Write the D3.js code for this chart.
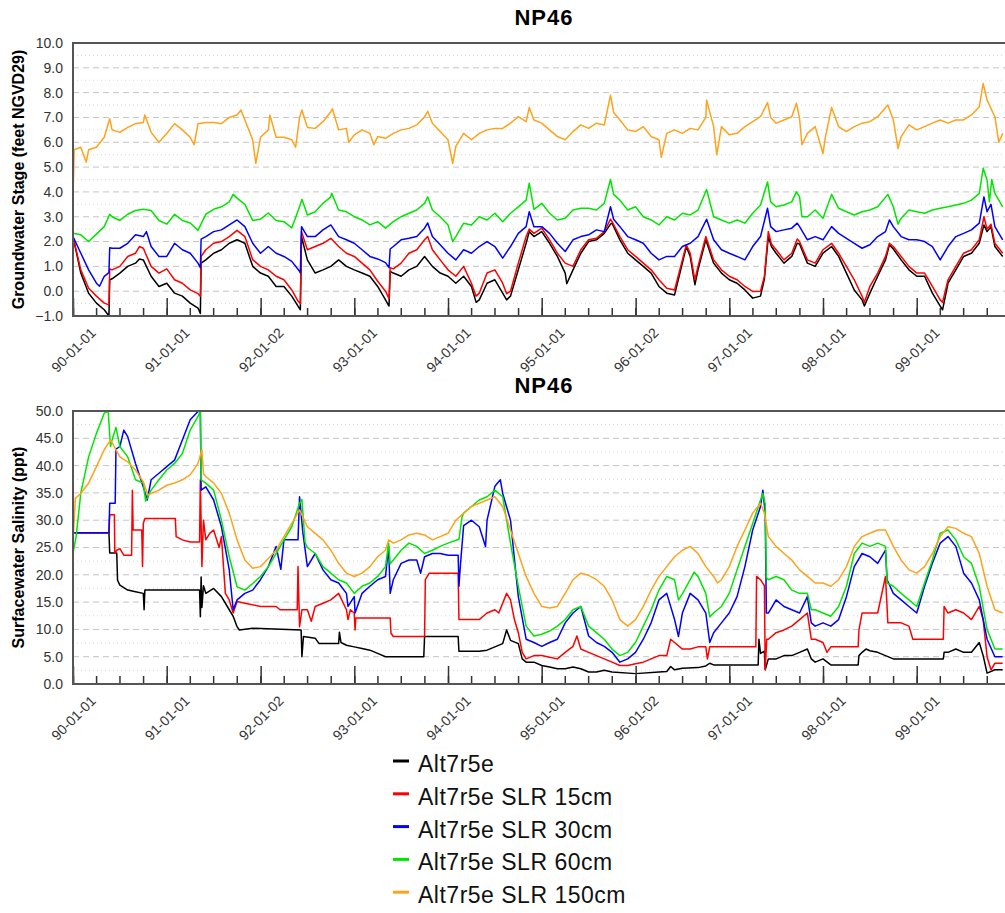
<!DOCTYPE html>
<meta charset="utf-8">
<style>
body { margin: 0; background: #fff; }
svg text { font-family: "Liberation Sans", Arial, sans-serif; }
.grid-major { stroke: #c4c4c4; stroke-width: 1; stroke-dasharray: 6,4; }
.grid-minor { stroke: #d8d8d8; stroke-width: 1; stroke-dasharray: 1,3; }
.ytick { font-size: 14px; fill: #333; }
.xtick text { font-size: 14px; fill: #333; }
.xtick line, .mtick line { stroke: #333; stroke-width: 1.5; }
.xtick path, .mtick path { display: none; }
.frame { stroke: #555; stroke-width: 2; fill: none; }
.title { font-size: 22px; font-weight: bold; letter-spacing: 1px; }
.ylab { font-size: 16px; font-weight: bold; }
.legend text { font-size: 23px; letter-spacing: 0.5px; fill: #111; }
.series { fill: none; stroke-width: 1.5; stroke-linejoin: round; }
</style>
<svg width="1005" height="913"></svg>
<script src="https://d3js.org/d3.v7.min.js"></script>
<script>
// series labels and colours (legend order)
var seriesNames = ["Alt7r5e", "Alt7r5e SLR 15cm", "Alt7r5e SLR 30cm", "Alt7r5e SLR 60cm", "Alt7r5e SLR 150cm"];
var seriesColors = ["#000000", "#ff0000", "#0000ff", "#00e600", "#ffa31a"];

// x tick labels (dates of the major ticks)
var xTickLabels = ["90-01-01", "91-01-01", "92-01-02", "93-01-01", "94-01-01", "95-01-01", "96-01-02", "97-01-01", "98-01-01", "99-01-01"];
var gwTicks = [-1, 0, 1, 2, 3, 4, 5, 6, 7, 8, 9, 10];
var salTicks = [0, 5, 10, 15, 20, 25, 30, 35, 40, 45, 50];

// values: [months since 1990-01-01, value]
// groundwater stage (feet NGVD29)
var gwBlack = [[0,2.2],[1,0.73],[2,-0.08],[3,-0.48],[4,-0.75],[4.6,-1.0],[4.7,0.46],[5,0.5],[6,0.73],[7,1.0],[8,1.13],[8.5,1.3],[9,1.26],[10,0.6],[11,0.19],[12,0.32],[13,-0.08],[14,-0.2],[15,-0.48],[16,-0.68],[16.3,-0.9],[16.4,1.13],[17,1.26],[18,1.53],[19,1.67],[20,1.93],[21,2.07],[22,1.93],[23,1.0],[24,0.73],[25,0.6],[26,0.19],[27,0.19],[28,-0.2],[28.8,-0.6],[29.1,-0.75],[29.25,2.2],[30,1.26],[31,0.73],[32,0.86],[33,1.0],[34,1.26],[35,1.0],[36,0.86],[37,0.73],[38,0.6],[39,0.19],[40,-0.35],[40.45,-0.6],[40.6,0.8],[41,0.73],[42,0.6],[43,0.86],[44,1.0],[45,1.4],[46,1.0],[47,0.73],[48,0.6],[49,0.32],[50,0.6],[51,0.19],[51.6,-0.45],[52,-0.35],[53,0.32],[54,0.46],[55,-0.08],[55.5,-0.35],[56,-0.2],[57,0.86],[58,1.93],[58.4,2.4],[59,2.2],[60,2.4],[61,1.93],[62,1.4],[63,0.73],[63.2,0.3],[64,0.86],[65,1.53],[66,2.0],[67,2.07],[68,2.33],[68.8,2.7],[69,2.74],[70,2.07],[71,1.53],[72,1.26],[73,1.0],[74,0.73],[75,0.19],[76,-0.08],[77,-0.15],[78,1.13],[78.5,1.8],[79,1.4],[79.6,0.26],[80,0.86],[81,2.07],[82,1.13],[83,0.73],[84,0.46],[85,0.32],[86,0.05],[87,-0.28],[88,-0.2],[88.5,0.5],[89,2.2],[89.4,1.8],[90,1.53],[91,1.13],[92,1.4],[92.7,1.93],[93,1.9],[94,1.13],[95,1.0],[96,1.53],[97.1,1.8],[98,1.4],[99,0.73],[100,0.05],[101,-0.35],[101.3,-0.6],[102,-0.08],[103,0.6],[104,1.26],[104.5,1.87],[105,1.7],[106,1.26],[107,0.86],[108,0.6],[109,0.6],[110,-0.08],[111,-0.6],[111.3,-0.75],[112,0.32],[113,0.86],[114,1.4],[115,1.53],[116,1.93],[116.6,2.67],[117,2.4],[117.5,2.6],[118,1.8],[119,1.4]];
var gwRed = [[0,2.2],[1,0.86],[2,0.12],[3,-0.2],[4,-0.48],[4.6,-0.55],[4.7,0.9],[5,0.86],[6,1.0],[7,1.4],[8,1.53],[8.5,1.8],[9,1.73],[10,1.0],[11,0.73],[12,0.9],[13,0.46],[14,0.32],[15,0.05],[16,-0.1],[16.3,-0.2],[16.4,1.4],[17,1.67],[18,1.93],[19,2.0],[20,2.2],[21,2.45],[22,2.2],[23,1.27],[24,1.0],[25,0.86],[26,0.6],[27,0.46],[28,0.05],[28.8,-0.4],[29.1,-0.5],[29.25,2.4],[30,1.67],[31,1.8],[32,1.93],[33,2.13],[34,1.8],[35,1.53],[36,1.4],[37,1.13],[38,0.86],[39,0.4],[40,0.0],[40.45,-0.3],[40.6,0.95],[41,0.9],[42,1.13],[43,1.53],[44,1.67],[45,2.07],[45.4,2.2],[46,1.67],[47,1.26],[48,0.86],[49,0.6],[50,1.0],[51,0.32],[51.6,-0.2],[52,-0.08],[53,0.73],[54,0.86],[55,0.32],[55.5,-0.1],[56,0.0],[57,1.13],[58,2.2],[58.4,2.5],[59,2.33],[60,2.54],[61,2.07],[62,1.53],[63,1.13],[64,1.0],[65,1.67],[66,2.07],[67,2.13],[68,2.4],[68.8,2.9],[69,2.8],[70,2.2],[71,1.67],[72,1.4],[73,1.13],[74,0.86],[75,0.46],[76,0.12],[77,0.05],[78,1.26],[78.5,1.87],[79,1.53],[79.6,0.46],[80,1.0],[81,2.2],[82,1.26],[83,0.86],[84,0.6],[85,0.46],[86,0.19],[87,-0.01],[88,0.0],[88.5,0.6],[89,2.4],[89.4,1.9],[90,1.67],[91,1.26],[92,1.53],[92.7,2.1],[93,2.0],[94,1.26],[95,1.13],[96,1.67],[97.1,1.93],[98,1.53],[99,1.0],[100,0.46],[101,-0.2],[101.3,-0.45],[102,0.19],[103,0.73],[104,1.4],[104.5,1.93],[105,1.8],[106,1.4],[107,1.0],[108,0.73],[109,0.73],[110,0.19],[111,-0.35],[111.3,-0.45],[112,0.46],[113,1.0],[114,1.53],[115,1.67],[116,2.07],[116.6,3.0],[117,2.5],[117.5,2.7],[118,1.93],[119,1.53]];
var gwBlue = [[0,2.2],[1,1.53],[2,0.86],[3,0.32],[3.4,0.2],[4,0.6],[4.6,0.75],[4.7,1.75],[5,1.73],[6,1.73],[7,1.93],[8,2.27],[9,2.2],[9.4,2.4],[10,1.8],[11,1.4],[12,1.4],[13,1.93],[14,1.67],[15,1.53],[16,1.13],[16.3,0.95],[16.4,2.1],[17,2.2],[18,2.4],[19,2.47],[20,2.67],[21,2.87],[22,2.6],[23,1.93],[24,1.53],[25,1.8],[26,1.53],[27,1.4],[28,1.2],[29,0.8],[29.1,0.73],[29.25,2.6],[30,2.2],[31,2.2],[32,2.47],[33,2.67],[34,2.2],[35,2.07],[36,1.93],[37,1.67],[38,1.4],[39,1.3],[40,1.15],[40.45,0.95],[40.6,1.7],[41,1.8],[42,2.07],[43,2.13],[44,2.2],[45,2.54],[45.4,2.75],[46,2.2],[47,1.87],[48,1.53],[49,1.26],[50,1.67],[51,1.53],[52,1.8],[53,2.0],[54,1.8],[55,1.33],[56,1.8],[57,2.33],[58,2.6],[58.4,3.2],[59,2.6],[60,2.6],[61,2.33],[62,1.93],[63,1.6],[64,2.07],[65,2.2],[66,2.27],[67,2.47],[68,2.4],[68.8,3.4],[69.2,2.9],[70,2.6],[71,2.2],[72,2.07],[73,1.93],[74,1.53],[75,1.26],[76,1.4],[77,1.4],[78,1.8],[79,1.93],[80,2.2],[81.1,2.9],[82,2.07],[83,1.67],[84,1.53],[85,1.4],[86,1.26],[87,1.8],[88,2.2],[88.9,3.34],[89.3,2.6],[90,2.4],[91,2.47],[92,2.54],[92.7,2.74],[93,2.6],[94,2.07],[95,2.2],[96,2.07],[97.1,2.6],[98,2.33],[99,2.13],[100,1.93],[101,1.73],[102,1.87],[103,2.2],[104,2.4],[104.5,2.87],[105,2.6],[106,2.2],[107,2.07],[108,2.07],[109,2.0],[110,1.8],[111,1.26],[112,1.8],[113,2.2],[114,2.33],[115,2.47],[116,2.74],[116.6,3.8],[117,3.2],[117.5,3.5],[118,2.6],[119,2.07]];
var gwGreen = [[0,2.33],[1,2.27],[2,2.0],[3,2.3],[4,2.6],[4.7,3.1],[5,3.0],[6,2.85],[7,3.1],[8,3.25],[9,3.3],[10,3.25],[11,2.85],[12,2.7],[13,3.1],[14,2.85],[15,2.75],[16,2.45],[17,3.1],[18,3.3],[19,3.4],[20,3.6],[20.5,3.9],[21,3.75],[22,3.5],[23,2.85],[24,2.9],[25,3.15],[26,2.85],[27,2.8],[28,2.55],[29,3.4],[29.3,3.7],[30,3.07],[31,3.2],[32,3.54],[33,3.8],[33.1,3.95],[34,3.27],[35,3.2],[36,3.0],[37,2.87],[38,2.67],[39,2.8],[40,2.54],[41,2.8],[42,3.0],[43,3.14],[44,3.27],[45,3.54],[45.4,3.8],[46,3.27],[47,3.0],[48,2.67],[48.6,2.0],[49,2.2],[50,2.74],[51,2.67],[52,3.0],[53,2.87],[54,3.14],[55,2.8],[56,3.14],[57,3.4],[58,3.67],[58.4,4.35],[59,3.3],[60,3.54],[61,3.14],[62,2.87],[63,2.94],[64,3.27],[65,3.34],[66,3.34],[67,3.27],[68,3.54],[68.8,4.5],[69.2,3.9],[70,3.67],[71,3.27],[72,3.4],[73,3.0],[74,2.87],[75,2.67],[76,3.0],[77,2.87],[78,3.14],[79,3.07],[80,3.27],[81.1,4.1],[82,3.0],[83,2.87],[84,2.74],[85,2.87],[86,2.74],[87,3.14],[88,3.47],[88.9,4.4],[89.3,3.6],[90,3.4],[91,3.47],[92,3.6],[92.6,4.0],[93,3.8],[93.3,3.0],[94,3.0],[95,3.27],[96,2.94],[97.1,3.9],[98,3.34],[99,3.2],[100,3.07],[101,3.2],[102,3.27],[103,3.4],[104.3,3.9],[105,3.4],[105.6,2.7],[106,2.94],[107,3.27],[108,3.2],[109,3.14],[110,3.27],[111,3.34],[112,3.4],[113,3.47],[114,3.54],[115,3.67],[116,3.94],[116.5,4.95],[117,4.48],[117.3,3.6],[117.6,4.5],[118,3.94],[119,3.4]];
var gwOrange = [[0,3.8],[0.15,5.7],[1,5.8],[1.7,5.2],[2,5.7],[3,5.8],[4,6.2],[4.7,6.95],[5,6.5],[6,6.4],[7,6.6],[8,6.75],[9,6.8],[9.2,7.1],[10,6.4],[11,6.0],[12,6.35],[13,6.75],[14,6.5],[15,6.2],[15.5,5.9],[16,6.75],[17,6.8],[18,6.8],[19,6.75],[20,7.0],[21,7.1],[21.5,7.3],[22,6.9],[23,6.1],[23.4,5.15],[24,6.2],[25,6.5],[25.2,7.1],[26,6.2],[27,6.2],[28,6.1],[28.5,5.8],[29,7.0],[29.3,7.3],[30,6.6],[31,6.56],[32,6.83],[33,7.23],[33.2,7.35],[34,6.5],[35,6.56],[35.3,6.0],[36,6.3],[37,6.5],[38,6.36],[38.5,5.9],[39,6.23],[40,6.16],[41,6.36],[42,6.5],[43,6.56],[44,6.7],[45,7.03],[45.4,7.25],[46,6.77],[47,6.43],[48,6.1],[48.6,5.15],[49,5.83],[50,6.36],[51,6.1],[52,6.36],[53,6.5],[54,6.56],[55,6.56],[56,6.77],[57,7.03],[58,6.83],[58.4,7.4],[59,6.9],[60,6.77],[61,6.5],[62,6.23],[63,6.1],[64,6.43],[65,6.7],[66,6.56],[67,6.77],[68,6.7],[68.8,7.9],[69.2,7.2],[70,6.9],[71,6.5],[72,6.43],[73,6.63],[74,6.23],[75,6.1],[75.3,5.4],[76,6.36],[77,6.5],[78,6.36],[79,6.56],[80,6.5],[81,7.0],[81.1,7.7],[82,6.63],[82.4,5.5],[83,6.63],[84,6.3],[85,6.36],[86,6.63],[87,6.83],[88,7.03],[88.9,7.6],[89.3,7.0],[90,6.77],[91,6.9],[92,7.03],[92.6,7.57],[93,6.96],[93.3,5.9],[94,6.36],[95,6.63],[96,5.55],[96.3,6.2],[97.1,7.4],[98,6.63],[99,6.43],[100,6.63],[101,6.77],[102,6.83],[103,7.03],[104.3,7.5],[105,6.9],[105.6,5.75],[106,6.23],[107,6.7],[108,6.5],[109,6.63],[110,6.77],[111,6.9],[112,6.77],[113,6.9],[114,6.9],[115,7.1],[116,7.43],[116.5,8.37],[117,7.7],[118,7.03],[118.5,6.0],[119,6.36]];

// surfacewater salinity (ppt)
var salBlack = [[0,27.7],[4.6,27.7],[4.7,24],[5.6,24],[5.7,19],[6,18.1],[7,17.2],[8,16.9],[9,16.6],[9.1,13.6],[9.2,17.2],[16.2,17.2],[16.3,12.3],[16.4,19.6],[16.5,14],[16.7,18],[17,16.6],[18,17.5],[19,16],[20,13.6],[20.5,12.4],[21,10.5],[21.3,9.9],[23,10.2],[29.2,9.9],[29.3,5],[29.5,8.7],[31,8.4],[31.5,7.4],[34,7.4],[34.1,9.5],[34.3,7.6],[35,7.1],[36,6.8],[37,6.5],[38,6.2],[39,5.6],[40,5],[44.9,5],[45,8.7],[49.3,8.7],[49.4,6],[52,6],[53,6.2],[54,6.8],[55,7.4],[55.5,9.9],[56,8],[57,7.4],[57.5,4.6],[58,4],[59,4],[60,3.4],[61,3.1],[62,2.8],[63,2.8],[64,3.1],[65,2.8],[66,2.2],[67,2.2],[68,2.5],[69,2.2],[72,1.9],[75,2.2],[76,2.3],[76.5,3.2],[77,2.6],[78,2.9],[80,3],[81,3.3],[81.5,3.8],[82,3.5],[87.7,3.5],[87.8,8.2],[88,5.6],[88.5,6],[88.6,2.6],[89,4.6],[90,4.6],[91,5.2],[92,5.2],[93,5.8],[94,6.4],[94.5,4.6],[95,4],[96,4.6],[97,3.5],[100.5,3.5],[100.6,5.2],[101,5.8],[101.5,6.4],[102,6.1],[103,5.8],[104,5.2],[105,4.6],[111.4,4.6],[111.5,5.8],[112,5.8],[113,6.4],[114,5.8],[115,5.8],[116,7.6],[116.5,5.2],[117,2],[118,2.6],[119,2.6]];
var salRed = [[0,27.7],[4.6,27.7],[4.7,31],[5.3,31],[5.35,24],[5.6,24.5],[6,24.8],[6.5,23.6],[7.5,23.6],[7.6,35.5],[7.7,28.2],[8.8,28.2],[8.9,21.5],[9,29.4],[9.2,30.3],[13.1,30.3],[13.2,27],[14,26.4],[15,26],[16.2,26],[16.3,37.4],[16.5,21.5],[16.7,30],[17,26.4],[17.5,27.6],[18,28.2],[18.7,25],[19,27],[19.5,16.6],[20,15.4],[20.5,13],[21,15.1],[22,14.8],[24,14.2],[26,14.2],[26.5,13.6],[28.7,13.6],[28.8,21.5],[29,10.5],[29.3,13.6],[30,13.6],[30.5,11.5],[31,14.2],[32,14.8],[33,15.4],[34,16.6],[35,13.6],[35.2,11.8],[35.5,13.6],[36,13],[36.1,9.9],[36.2,12.1],[40.6,12.1],[40.7,9.3],[41,8.7],[45,8.7],[45.1,19.1],[45.6,20.3],[49.3,20.3],[49.4,11.8],[52,11.8],[52.5,12.4],[53,13],[54,13.6],[54.5,13],[55.5,16.6],[56,15.4],[56.5,11.8],[57,9.4],[57.5,5.8],[58,4.6],[59,5.2],[60,5.2],[61,4.9],[62,4.6],[63,5.8],[64,6.9],[64.5,8.8],[65,6.4],[66,5.8],[67,5.2],[68,4.6],[69,4],[70,3.4],[71,3.4],[72,3.7],[73,4],[74,4.6],[75,5.2],[76,5.2],[76.5,8.2],[77,7.6],[78,6.4],[79,6.4],[80,6.8],[81,6.8],[81.2,4.6],[81.5,6.8],[87.4,6.8],[87.5,19.7],[88,19.1],[88.5,18],[88.6,2.6],[88.8,8.2],[89,8.2],[90,9.4],[91,9.9],[92,10.6],[93,11.8],[94,13],[94.5,8.2],[95,8.2],[96,7.6],[96.5,5.8],[97,6.8],[100.5,6.8],[100.6,9.9],[101,13],[103,13],[104,19.7],[104.3,11.2],[106,11.2],[107,10.6],[107.5,8.2],[111.4,8.2],[111.5,14.2],[112,13],[113,13.6],[114,13],[115,11.8],[116,14.2],[116.5,11.8],[117,5],[117.5,2.6],[118,3.8],[119,3.8]];
var salBlue = [[0,27.7],[4.6,27.7],[4.7,33.1],[5.4,33.1],[5.5,43],[6,43.5],[6.5,46.5],[7,45.3],[8,40.4],[9,36.1],[9.5,33.7],[10,37.4],[11,38.6],[12,39.8],[13,41],[14,44.7],[15,48.4],[16,49.9],[16.3,50],[16.4,35.5],[17,36.1],[18,33.7],[19,28.8],[20,20.9],[20.5,13.6],[21,15.4],[22,16.6],[23,17.2],[24,19.1],[25,21.5],[26,25.2],[26.6,21],[27,26.4],[28,26.4],[28.8,26.4],[29,34.3],[29.4,28],[30,21.5],[31,23.9],[32,20.9],[33,19.1],[34,18.5],[35,16.6],[35.2,14.2],[36,16],[36.1,13],[37,16.6],[38,17.9],[39,19.1],[40,19.7],[40.4,25.2],[40.6,16.6],[41,19.1],[42,22.1],[43,22.7],[44,22.7],[44.5,20.3],[45,23.3],[46,23.9],[47,23.9],[48,23.6],[49.3,23.6],[49.4,17.9],[49.6,22],[50,29],[51,30],[52,28.8],[52.8,25.2],[53,30],[54,36.2],[54.7,37.4],[55,34.9],[56,30],[56.6,21.5],[57,16],[58,8.2],[59,7.6],[60,6.9],[61,7.6],[62,8.2],[63,11.2],[64,13],[65,14.2],[66,8.8],[67,7.6],[68,6.9],[69,5.8],[70,4],[71,4.6],[72,5.8],[73,8.2],[74,11.2],[75,15.4],[76,16.6],[77,11.8],[77.5,8.7],[78,13],[79,16.6],[80,15.4],[81,13],[81.5,7.6],[82,9.4],[83,11.2],[84,13],[85,16],[86,21.5],[87,28.2],[88,32.5],[88.3,35.5],[88.6,31.3],[88.75,13],[89,13],[90,15.4],[91,14.2],[92,13.6],[93,13],[94,16],[94.5,11.2],[95,10.6],[96,11.2],[97,10.6],[98,11.8],[99,16],[100,21.5],[101,23.9],[102,23.3],[103,22.1],[104,24.5],[104.2,19.1],[105,16.6],[106,15.4],[107,14.2],[108,13],[109,17.9],[110,22.1],[111,25.8],[112,27],[113,25.2],[114,20.3],[115,18.5],[116,15.4],[117,8.2],[118,5],[119,5]];
var salGreen = [[0,24],[0.4,27],[1,35],[2,41.6],[3,45.9],[4,49.6],[4.5,50],[4.8,43.5],[5,44.7],[5.5,47],[6,43.5],[7,41.6],[8,37.4],[9,36.8],[9.3,33.5],[10,35.5],[11,37.4],[12,39.2],[13,40.4],[14,42.2],[15,46.5],[16,49],[16.3,50],[16.4,37.4],[17,36.8],[18,35.5],[19,30],[20,23.3],[21,17.8],[22,17.2],[23,18.4],[24,19.7],[25,21.5],[26,23.9],[27,26.4],[28,28.8],[29,33.1],[29.3,33.8],[29.7,26],[30,25],[31,23.9],[32,21.5],[33,20.3],[34,19.1],[35,18.5],[36,16.6],[37,17.9],[38,18.5],[39,19.7],[40,21.5],[40.4,25.8],[40.6,22],[41,22.7],[42,24.5],[43,25.8],[44,25.2],[45,23.9],[46,24.5],[47,25.2],[48,25.8],[49.4,26.5],[49.8,30.6],[50,31.3],[51,32.5],[52,33.7],[53,34.3],[54,35.5],[55,34.3],[56,25.8],[57,17.9],[58,10.6],[59,8.8],[60,9.1],[61,9.7],[62,10.6],[63,11.8],[64,13.6],[65,14.2],[66,10.6],[67,9.4],[68,8.2],[69,6.4],[70,5.2],[71,5.8],[72,7.6],[73,10.6],[74,13.6],[75,17.2],[76,19.7],[77,19.1],[77.5,15.4],[78,16.5],[79,19.1],[79.5,20.5],[80,19.7],[81,16.6],[81.5,12.3],[82,13],[83,14.2],[84,16.6],[85,20.9],[86,25.2],[87,29.4],[88,33.7],[88.3,34.9],[88.6,33],[88.75,19.5],[89,19.1],[90,19.7],[91,19.1],[92,17.2],[93,16.6],[94,16.6],[94.5,13.6],[95,13.6],[96,13],[97,12.4],[98,14.2],[99,17.9],[100,23.9],[101,25.8],[102,25.2],[103,25.8],[104,25.2],[104.2,18.5],[105,17.9],[106,16.6],[107,15.4],[108,14.2],[109,18.5],[110,22.7],[111,27.6],[112,28.2],[113,26.4],[114,23.3],[115,22.1],[116,17.9],[117,10],[118,6.4],[119,6.4]];
var salOrange = [[0,26],[0.3,34],[1,34.9],[2,36.8],[3,39.8],[4,42.9],[4.8,44.7],[5,44.2],[6,41.6],[7,40.7],[8,39.2],[9,37],[9.6,34.6],[10,34.9],[11,35.5],[12,36.4],[13,36.8],[14,37.4],[15,38.3],[16,40.4],[16.5,42.9],[16.7,38.5],[17,38],[18,36.8],[19,34.9],[20,31.3],[21,26.4],[22,22.7],[23,21.2],[24,21.5],[25,23],[26,24.5],[27,27],[28,29.4],[29,31.9],[30,28.8],[31,27.6],[32,26.4],[33,24.5],[34,22.1],[35,20.3],[36,19.7],[37,20.3],[38,21.5],[39,23.3],[40,24.5],[40.4,26.4],[41,25.8],[42,26.4],[43,27.3],[44,27.6],[45,27.3],[46,26.4],[47,27],[48,27.6],[49,30],[50,31.3],[51,32.5],[52,33.1],[53,33.7],[54,34.3],[55,32.5],[56,28.2],[57,23.9],[58,19.7],[59,16.6],[60,14.2],[61,13.9],[62,14.2],[63,16.6],[64,19.1],[65,20.3],[66,19.9],[67,19.1],[68,17.9],[69,15.4],[70,11.8],[71,10.6],[72,11.8],[73,14.2],[74,17.2],[75,19.7],[76,21.5],[77,23.3],[78,24.5],[79,25.2],[80,23.9],[81,21.5],[82,19.7],[82.5,18.5],[83,19.1],[84,21.5],[85,25.2],[86,28.2],[87,31.3],[88,33.1],[88.5,31.3],[89,27],[90,25.2],[91,23.9],[92,22.7],[93,20.9],[94,19.7],[95,18.5],[96,18.5],[97,17.9],[98,19.1],[99,21.5],[100,25.2],[101,27],[102,27.6],[103,28.2],[104,28.2],[105,25.2],[106,22.7],[107,20.9],[108,20.3],[109,21.5],[110,23.9],[111,27],[112,28.8],[113,28.5],[114,27.6],[115,27],[116,23.9],[117,17.9],[118,13.6],[119,13]];

var svg = d3.select("svg");
var left = 73, right = 1015, plotH = 273;
var t0 = new Date(1990, 0, 1);
var x = d3.scaleTime()
    .domain([t0, new Date(2000, 0, 19)])
    .range([left, right]);
var parseTick = d3.timeParse("%y-%m-%d");

function monthDate(m) {
  return new Date(t0.getTime() + m * 30.4375 * 864e5);
}

var panels = [
  {top: 43, title: "NP46", label: "Groundwater Stage (feet NGVD29)", ticks: gwTicks, minor: 0.5,
   series: [gwBlack, gwRed, gwBlue, gwGreen, gwOrange]},
  {top: 411, title: "NP46", label: "Surfacewater Salinity (ppt)", ticks: salTicks, minor: 2.5,
   series: [salBlack, salRed, salBlue, salGreen, salOrange]}
];

panels.forEach(function(p, pi) {
  var bottom = p.top + plotH;
  var y = d3.scaleLinear()
      .domain([p.ticks[0], p.ticks[p.ticks.length - 1]])
      .range([bottom, p.top]);
  var g = svg.append("g");

  // grid
  p.ticks.forEach(function(t, i) {
    if (i > 0 && i < p.ticks.length - 1) {
      g.append("line").attr("class", "grid-major")
        .attr("x1", left).attr("x2", right).attr("y1", y(t)).attr("y2", y(t));
    }
    if (i < p.ticks.length - 1) {
      var h = t + p.minor;
      g.append("line").attr("class", "grid-minor")
        .attr("x1", left).attr("x2", right).attr("y1", y(h)).attr("y2", y(h));
    }
  });

  // lines
  var clipId = "clip" + pi;
  svg.append("clipPath").attr("id", clipId).append("rect")
    .attr("x", left).attr("y", p.top).attr("width", right - left).attr("height", plotH);
  var line = d3.line()
    .x(function(d) { return x(monthDate(d[0])); })
    .y(function(d) { return y(d[1]); });
  g.append("g").attr("clip-path", "url(#" + clipId + ")")
    .selectAll("path")
    .data(p.series)
    .enter().append("path")
      .attr("class", "series")
      .attr("stroke", function(d, i) { return seriesColors[i]; })
      .attr("d", line);

  // x axis: quarterly minor ticks, yearly labelled ticks
  g.append("g").attr("class", "mtick")
    .attr("transform", "translate(0," + bottom + ")")
    .call(d3.axisBottom(x).tickValues(d3.timeMonth.every(3).range(t0, new Date(2000, 0, 2)))
      .tickSize(-8).tickFormat(""));
  var xa = g.append("g").attr("class", "xtick")
    .attr("transform", "translate(0," + bottom + ")")
    .call(d3.axisBottom(x).tickValues(xTickLabels.map(parseTick))
      .tickSize(-18).tickFormat(d3.timeFormat("%y-%m-%d")));
  xa.selectAll("text")
    .attr("y", 0).attr("dy", "0.35em")
    .attr("text-anchor", "middle")
    .attr("transform", "translate(0,34) rotate(-45)");

  // y tick labels
  g.selectAll(".ytick").data(p.ticks).enter().append("text")
    .attr("class", "ytick")
    .attr("x", 63).attr("y", function(d) { return y(d); })
    .attr("dy", "0.35em").attr("text-anchor", "end")
    .text(function(d) { return d3.format(".1f")(d); });

  // frame: top, left and bottom edges
  g.append("path").attr("class", "frame")
    .attr("d", "M" + (right + 5) + "," + p.top + "H" + left + "V" + bottom + "H" + (right + 5));

  // titles
  svg.append("text").attr("class", "title")
    .attr("x", (left + right) / 2).attr("y", p.top - 18)
    .attr("text-anchor", "middle").text(p.title);
  svg.append("text").attr("class", "ylab")
    .attr("transform", "translate(24," + (p.top + plotH / 2) + ") rotate(-90)")
    .attr("text-anchor", "middle").text(p.label);
});

// legend
var lg = svg.append("g").attr("class", "legend");
seriesNames.forEach(function(name, i) {
  var by = 772 + i * 32.8;
  lg.append("line")
    .attr("x1", 393).attr("x2", 409).attr("y1", by - 11).attr("y2", by - 11)
    .attr("stroke", seriesColors[i]).attr("stroke-width", 3);
  lg.append("text").attr("x", 418).attr("y", by).text(name);
});
</script>
